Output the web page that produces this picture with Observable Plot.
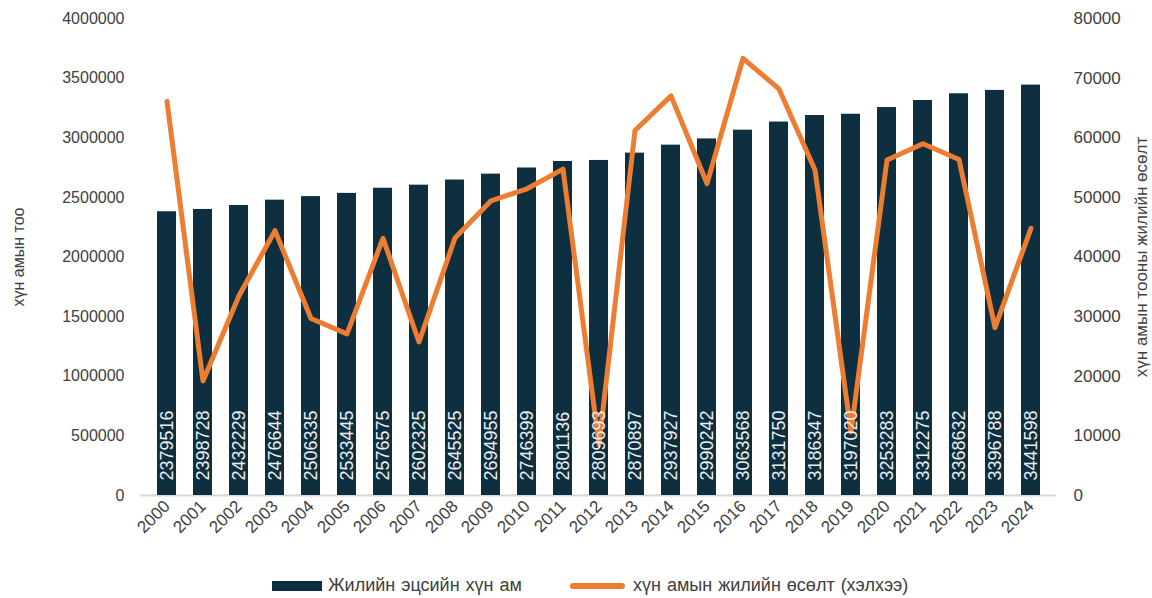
<!DOCTYPE html>
<html>
<head>
<meta charset="utf-8">
<script src="https://cdn.jsdelivr.net/npm/d3@7"></script>
<script src="https://cdn.jsdelivr.net/npm/@observablehq/plot@0.6"></script>
<style>
  body { margin: 0; background: #fff; font-family: "Liberation Sans", Arial, sans-serif; }
  #legend { position: relative; height: 38px; font-size: 18px; color: #404040; }
  .item { position: absolute; top: 15px; display: flex; align-items: center; white-space: nowrap; word-spacing: 1px; }
  .sw1 { width: 50px; height: 10px; background: #0d2f40; margin-right: 6px; }
  .sw2 { width: 55px; height: 6px; background: #ed7d31; border-radius: 3px; margin-right: 8px; }
</style>
</head>
<body>
<div id="chart"></div>
<div id="legend">
  <div class="item" style="left:272px"><span class="sw1"></span><span>Жилийн эцсийн хүн ам</span></div>
  <div class="item" style="left:570px"><span class="sw2"></span><span>хүн амын жилийн өсөлт (хэлхээ)</span></div>
</div>
<script>
const years = ["2000","2001","2002","2003","2004","2005","2006","2007","2008","2009","2010","2011","2012","2013","2014","2015","2016","2017","2018","2019","2020","2021","2022","2023","2024"];
const population = [2379516,2398728,2432229,2476644,2506335,2533445,2576575,2602325,2645525,2694955,2746399,2801136,2809693,2870897,2937927,2990242,3063568,3131750,3186347,3197020,3253283,3312275,3368632,3396788,3441598];
const growth = [66100,19212,33501,44415,29691,27110,43130,25750,43200,49430,51444,54737,8557,61204,67030,52315,73326,68182,54597,10673,56263,58992,56357,28156,44810];
const leftTicks = [0,500000,1000000,1500000,2000000,2500000,3000000,3500000,4000000];
const rightTicks = [0,10000,20000,30000,40000,50000,60000,70000,80000];
const leftTitle = "хүн амын тоо";
const rightTitle = "хүн амын тооны жилийн өсөлт";

const k = 4000000 / 80000;
const data = years.map((y, i) => ({year: y, pop: population[i], growth: growth[i]}));

const chart = Plot.plot({
  width: 1152,
  height: 560,
  marginTop: 18,
  marginBottom: 65,
  marginLeft: 140,
  marginRight: 96,
  style: {fontFamily: "'Liberation Sans', Arial, sans-serif", fontSize: "17px", color: "#404040", background: "#fff"},
  x: {type: "band", domain: years, paddingInner: 0.48, paddingOuter: 0.23},
  y: {domain: [0, 4000000]},
  marks: [
    Plot.axisY({ticks: leftTicks, tickSize: 0, tickPadding: 16, tickFormat: d => String(d),
      label: leftTitle, labelAnchor: "center", labelArrow: "none", labelOffset: 128, fontSize: 16}),
    Plot.axisY({anchor: "right", ticks: rightTicks.map(d => d * k), tickFormat: d => String(Math.round(d / k)),
      tickSize: 0, tickPadding: 17, label: rightTitle, labelAnchor: "center", labelArrow: "none", labelOffset: 90, fontSize: 17}),
    Plot.axisX({tickRotate: -45, tickSize: 0, tickPadding: 8, label: null, fontSize: 17}),
    Plot.ruleY([0], {stroke: "#d9d9d9", strokeWidth: 2}),
    Plot.barY(data, {x: "year", y: "pop", fill: "#0d2f40"}),
    Plot.line(data, {x: "year", y: d => d.growth * k, stroke: "#ed7d31", strokeWidth: 5, strokeLinejoin: "round", strokeLinecap: "round"}),
    Plot.text(data, {x: "year", y: 0, text: d => String(d.pop), rotate: -90, textAnchor: "start", dy: -15, fill: "#eeeeee", fontSize: 18})
  ]
});
document.getElementById("chart").appendChild(chart);
</script>
</body>
</html>
